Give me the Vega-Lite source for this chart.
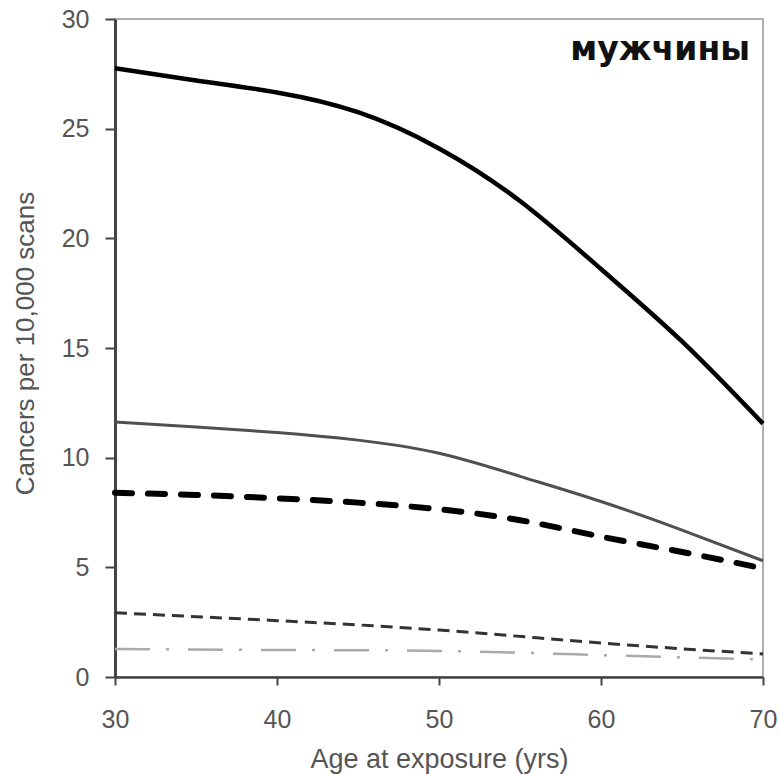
{
  "$schema": "https://vega.github.io/schema/vega-lite/v6.json",
  "autosize": {"type": "none"},
  "padding": {"left": 115, "top": 19, "right": 16, "bottom": 97},
  "width": 648,
  "height": 658,
  "background": "white",
  "config": {
    "view": {"stroke": "#b0b0b0", "strokeWidth": 2},
    "font": "Liberation Sans"
  },
  "datasets": {
    "curves": [
      {"series": "A", "age": 30, "value": 27.75},
      {"series": "A", "age": 35, "value": 27.2},
      {"series": "A", "age": 40, "value": 26.65},
      {"series": "A", "age": 45, "value": 25.75},
      {"series": "A", "age": 50, "value": 24.1},
      {"series": "A", "age": 55, "value": 21.7},
      {"series": "A", "age": 60, "value": 18.6},
      {"series": "A", "age": 65, "value": 15.3},
      {"series": "A", "age": 70, "value": 11.55},
      {"series": "B", "age": 30, "value": 11.63},
      {"series": "B", "age": 35, "value": 11.4},
      {"series": "B", "age": 40, "value": 11.15},
      {"series": "B", "age": 45, "value": 10.8},
      {"series": "B", "age": 50, "value": 10.2},
      {"series": "B", "age": 55, "value": 9.15},
      {"series": "B", "age": 60, "value": 8.0},
      {"series": "B", "age": 65, "value": 6.7},
      {"series": "B", "age": 70, "value": 5.3},
      {"series": "C", "age": 30, "value": 8.4},
      {"series": "C", "age": 35, "value": 8.3},
      {"series": "C", "age": 40, "value": 8.15},
      {"series": "C", "age": 45, "value": 7.95},
      {"series": "C", "age": 50, "value": 7.65},
      {"series": "C", "age": 55, "value": 7.15},
      {"series": "C", "age": 60, "value": 6.4},
      {"series": "C", "age": 65, "value": 5.7},
      {"series": "C", "age": 70, "value": 4.95},
      {"series": "D", "age": 30, "value": 2.93},
      {"series": "D", "age": 40, "value": 2.57},
      {"series": "D", "age": 50, "value": 2.14},
      {"series": "D", "age": 60, "value": 1.55},
      {"series": "D", "age": 70, "value": 1.05},
      {"series": "E", "age": 30, "value": 1.28},
      {"series": "E", "age": 40, "value": 1.23},
      {"series": "E", "age": 50, "value": 1.19},
      {"series": "E", "age": 60, "value": 1.0},
      {"series": "E", "age": 70, "value": 0.8}
    ],
    "labels": [
      {"label": "мужчины", "age": 69.2, "value": 28.6}
    ]
  },
  "encoding": {
    "x": {
      "field": "age", "type": "quantitative",
      "scale": {"domain": [30, 70], "nice": false, "zero": false},
      "axis": {
        "title": "Age at exposure (yrs)",
        "values": [30, 40, 50, 60, 70],
        "grid": false,
        "labelFlush": false,
        "labelOverlap": false,
        "domainColor": "#444", "domainWidth": 2.5,
        "tickColor": "#444", "tickWidth": 2, "tickSize": 8,
        "labelFont": "Liberation Sans", "labelFontSize": 25, "labelColor": "#555",
        "labelPadding": 22,
        "titleFont": "Liberation Sans", "titleFontSize": 27, "titleFontWeight": "normal", "titleColor": "#555",
        "titleY": 90, "titleBaseline": "alphabetic"
      }
    },
    "y": {
      "field": "value", "type": "quantitative",
      "scale": {"domain": [0, 30], "nice": false},
      "axis": {
        "title": "Cancers per 10,000 scans",
        "values": [0, 5, 10, 15, 20, 25, 30],
        "grid": false,
        "labelFlush": false,
        "domainColor": "#444", "domainWidth": 3,
        "tickColor": "#444", "tickWidth": 2, "tickSize": 10,
        "labelFont": "Liberation Sans", "labelFontSize": 25, "labelColor": "#555",
        "labelPadding": 16,
        "titleFont": "Liberation Sans", "titleFontSize": 26, "titleFontWeight": "normal", "titleColor": "#555",
        "titleX": -90, "titleY": 324, "titleAngle": 270, "titleAlign": "center", "titleBaseline": "middle"
      }
    }
  },
  "layer": [
    {
      "data": {"name": "curves"},
      "transform": [{"filter": "datum.series === 'E'"}],
      "mark": {"type": "line", "interpolate": "natural", "color": "#aaaaaa", "strokeWidth": 2.5, "strokeDash": [35, 16, 3, 19]}
    },
    {
      "data": {"name": "curves"},
      "transform": [{"filter": "datum.series === 'D'"}],
      "mark": {"type": "line", "interpolate": "natural", "color": "#333333", "strokeWidth": 3, "strokeDash": [12, 7]}
    },
    {
      "data": {"name": "curves"},
      "transform": [{"filter": "datum.series === 'C'"}],
      "mark": {"type": "line", "interpolate": "natural", "color": "#000000", "strokeWidth": 6, "strokeCap": "round", "strokeDash": [17, 16]}
    },
    {
      "data": {"name": "curves"},
      "transform": [{"filter": "datum.series === 'B'"}],
      "mark": {"type": "line", "interpolate": "natural", "color": "#505050", "strokeWidth": 3}
    },
    {
      "data": {"name": "curves"},
      "transform": [{"filter": "datum.series === 'A'"}],
      "mark": {"type": "line", "interpolate": "natural", "color": "#000000", "strokeWidth": 4.5}
    },
    {
      "data": {"name": "labels"},
      "mark": {"type": "text", "align": "right", "baseline": "middle", "font": "DejaVu Sans", "fontWeight": "bold", "fontSize": 33, "color": "#111"},
      "encoding": {"text": {"field": "label"}}
    }
  ]
}
